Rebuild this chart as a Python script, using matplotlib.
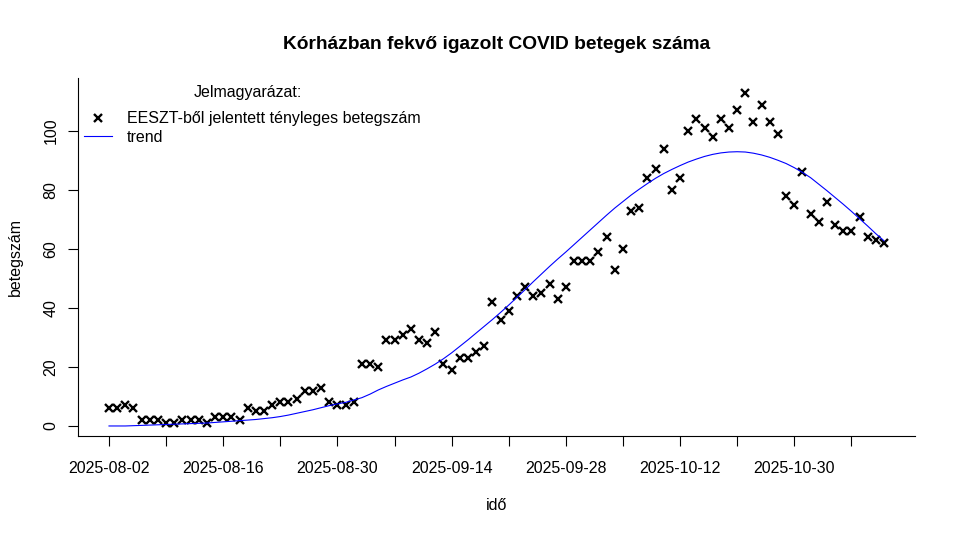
"""
    Hospitalised COVID patients - daily counts with trend
"""

import numpy as np
import matplotlib
matplotlib.use('Agg')
import matplotlib.pyplot as plt

# daily number of patients (EESZT reports), one value per row of the data
betegszam = [6, 6, 7, 6, 2, 2, 2, 1, 1, 2,
             2, 2, 1, 3, 3, 3, 2, 6, 5, 5,
             7, 8, 8, 9, 12, 12, 13, 8, 7, 7,
             8, 21, 21, 20, 29, 29, 31, 33, 29, 28,
             32, 21, 19, 23, 23, 25, 27, 42, 36, 39,
             44, 47, 44, 45, 48, 43, 47, 56, 56, 56,
             59, 64, 53, 60, 73, 74, 84, 87, 94, 80,
             84, 100, 104, 101, 98, 104, 101, 107, 113, 103,
             109, 103, 99, 78, 75, 86, 72, 69, 76, 68,
             66, 66, 71, 64, 63, 62]

# fitted trend
trend = [0.0, 0.0, 0.0, 0.1, 0.2, 0.3, 0.4, 0.5, 0.6, 0.7,
         0.8, 0.9, 1.0, 1.2, 1.4, 1.6, 1.8, 2.0, 2.2, 2.5,
         2.8, 3.2, 3.7, 4.3, 4.9, 5.5, 6.2, 6.9, 7.5, 8.0,
         8.8, 9.6, 10.8, 12.2, 13.4, 14.5, 15.6, 16.6, 17.9, 19.4,
         21.0, 22.8, 24.8, 27.0, 29.2, 31.5, 33.8, 36.1, 38.5, 41.0,
         43.6, 46.2, 48.9, 51.5, 54.1, 56.6, 59.0, 61.5, 64.0, 66.5,
         69.0, 71.5, 73.9, 76.1, 78.3, 80.3, 82.2, 84.0, 85.6, 87.0,
         88.3, 89.5, 90.5, 91.4, 92.1, 92.6, 92.9, 93.0, 92.9, 92.5,
         91.9, 91.1, 90.1, 89.0, 87.6, 86.0, 84.2, 82.0, 79.8, 77.5,
         75.2, 72.8, 70.3, 67.8, 65.2, 62.8]

# ticks every 7 rows, only every second one labelled (as R drops overlapping labels)
tick_rows = list(range(1, 97, 7))
tick_labels = ['2025-08-02', '', '2025-08-16', '', '2025-08-30', '',
               '2025-09-14', '', '2025-09-28', '', '2025-10-12', '',
               '2025-10-30', '']

plt.rcParams['font.family'] = ['Liberation Sans', 'DejaVu Sans']
fs = 11.5

idx = np.arange(1, len(betegszam) + 1)

fig = plt.figure(figsize=(9.57, 5.34), dpi=100)
ax = fig.add_axes([78 / 957, 98 / 534, 837 / 957, 358 / 534])

ax.plot(idx, betegszam, linestyle='none', marker='x', color='black',
        markersize=5.5, markeredgewidth=1.7,
        label='EESZT-ből jelentett tényleges betegszám')
ax.plot(idx, trend, color='blue', linewidth=0.8, label='trend')

# R style axis ranges (4% padding)
xpad = 0.04 * (len(idx) - 1)
ax.set_xlim(1 - xpad, len(idx) + xpad)
ax.set_ylim(-3.4, 118)

ax.set_xticks(tick_rows)
ax.set_xticklabels(tick_labels)
ax.set_yticks([0, 20, 40, 60, 80, 100])
ax.tick_params(axis='both', length=7, width=0.8, labelsize=fs, pad=7)
ax.tick_params(axis='x', pad=11)
plt.setp(ax.get_yticklabels(), rotation=90, va='center')

ax.spines['top'].set_visible(False)
ax.spines['right'].set_visible(False)
ax.spines['left'].set_linewidth(0.8)
ax.spines['bottom'].set_linewidth(0.8)

ax.set_xlabel('idő', fontsize=fs, labelpad=16)
ax.set_ylabel('betegszám', fontsize=fs, labelpad=15)
ax.set_title('Kórházban fekvő igazolt COVID betegek száma',
             fontsize=13.8, fontweight='bold', pad=21)

# legend: title drawn as a plain text, entries below it
ax.text((248 - 78) / 837, (436 - 93) / 358, 'Jelmagyarázat:', fontsize=fs,
        ha='center', va='center', transform=ax.transAxes)
leg = ax.legend(loc='upper left', bbox_to_anchor=(0.0, (436 - 105) / 358),
                frameon=False, fontsize=fs, handlelength=1.75,
                handletextpad=0.9, labelspacing=0.22,
                borderpad=0.0, borderaxespad=0.4)

fig.savefig('out.png', dpi=100)
